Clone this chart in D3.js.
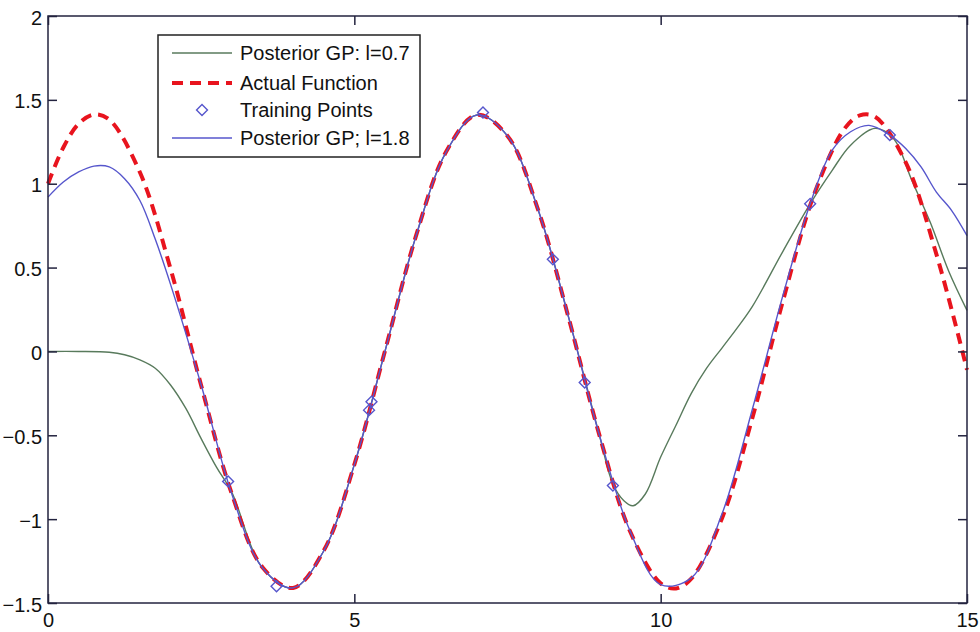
<!DOCTYPE html>
<html>
<head>
<meta charset="utf-8">
<script src="https://cdn.jsdelivr.net/npm/d3@7"></script>
<style>
  body { margin: 0; background: #fff; }
  text { font-family: "Liberation Sans", Arial, sans-serif; fill: #111; }
</style>
</head>
<body>
<div id="chart"></div>
<script>
// values

var actualX = [0,0.25,0.5,0.75,1,1.5,2,2.5,3,3.5,4,4.5,5,5.5,6,6.5,7,7.5,8,8.5,9,9.5,10,10.25,10.5,11,11.5,12,12.5,13,13.25,13.5,14,14.5,15]
var actualY = [1.0,1.216,1.357,1.413,1.382,1.068,0.493,-0.203,-0.849,-1.287,-1.41,-1.188,-0.675,0.003,0.681,1.192,1.411,1.285,0.844,0.197,-0.499,-1.072,-1.383,-1.413,-1.355,-0.996,-0.392,0.307,0.932,1.328,1.407,1.399,1.127,0.58,-0.109]

var gpShortX = [0,0.5,1,1.25,1.5,1.75,2,2.25,2.5,2.75,3,3.5,4,4.5,5,5.5,6,6.5,7,7.5,8,8.5,9,9.22,9.4,9.55,9.75,10,10.25,10.5,10.75,11,11.25,11.5,12,12.44,12.8,13.1,13.5,13.8,14.1,14.4,14.7,15]
var gpShortY = [0,0,-0.005,-0.02,-0.05,-0.1,-0.2,-0.34,-0.52,-0.69,-0.84,-1.29,-1.41,-1.19,-0.675,0.0,0.68,1.19,1.41,1.285,0.845,0.2,-0.5,-0.79,-0.89,-0.92,-0.85,-0.63,-0.44,-0.25,-0.1,0.02,0.14,0.27,0.6,0.88,1.08,1.23,1.33,1.27,1.02,0.77,0.48,0.245]

var gpLongX = [0,0.25,0.5,0.75,1,1.25,1.5,1.75,2,2.5,3,3.5,4,4.5,5,5.5,6,6.5,7,7.5,8,8.5,9,9.5,10,10.5,11,11.5,12,12.44,12.8,13.1,13.4,13.74,14,14.25,14.5,14.75,15]
var gpLongY = [0.92,1.01,1.07,1.105,1.1,1.03,0.9,0.67,0.4,-0.2,-0.85,-1.29,-1.41,-1.19,-0.675,0.0,0.68,1.19,1.41,1.285,0.845,0.2,-0.5,-1.07,-1.39,-1.35,-0.97,-0.34,0.34,0.88,1.2,1.31,1.348,1.29,1.21,1.1,0.95,0.84,0.69]

var trainX = [2.94,3.73,5.24,5.28,7.1,8.24,8.76,9.22,12.44,13.74]
var trainY = [-0.775,-1.4,-0.35,-0.3,1.425,0.549,-0.185,-0.8,0.88,1.29]

var xTicks = [0,5,10,15]
var yTicks = [-1.5,-1,-0.5,0,0.5,1,1.5,2]

var legendLabels = ["Posterior GP: l=0.7", "Actual Function", "Training Points", "Posterior GP; l=1.8"]

var colGreen = "#587a5c",
    colRed = "#e8141e",
    colBlue = "#5656cc",
    colAxis = "#23233f"

var margin = {top: 16, right: 13, bottom: 29, left: 48},
    width = 980 - margin.left - margin.right,
    height = 632 - margin.top - margin.bottom

var svg = d3.select("#chart")
  .append("svg")
  .attr("width", 980)
  .attr("height", 632)
  .append("g")
  .attr("transform", "translate(" + margin.left + "," + margin.top + ")")

var x = d3.scaleLinear().domain([0, 15]).range([0, width])
var y = d3.scaleLinear().domain([-1.5, 2]).range([height, 0])

function pairs(xs, ys) {
  return xs.map(function(v, i) { return [v, ys[i]] })
}

var line = d3.line()
  .x(function(d) { return x(d[0]) })
  .y(function(d) { return y(d[1]) })
  .curve(d3.curveCatmullRom.alpha(0.5))

// curves
svg.append("path")
  .datum(pairs(gpShortX, gpShortY))
  .attr("d", line)
  .attr("fill", "none")
  .attr("stroke", colGreen)
  .attr("stroke-width", 1.4)

svg.append("path")
  .datum(pairs(actualX, actualY))
  .attr("d", line)
  .attr("fill", "none")
  .attr("stroke", colRed)
  .attr("stroke-width", 4)
  .attr("stroke-dasharray", "11,7")

var diamond = d3.symbol().type(d3.symbolDiamond2).size(76)

svg.selectAll(".train")
  .data(pairs(trainX, trainY))
  .enter()
  .append("path")
  .attr("class", "train")
  .attr("d", diamond)
  .attr("transform", function(d) { return "translate(" + x(d[0]) + "," + y(d[1]) + ")" })
  .attr("fill", "none")
  .attr("stroke", colBlue)
  .attr("stroke-width", 1.4)

svg.append("path")
  .datum(pairs(gpLongX, gpLongY))
  .attr("d", line)
  .attr("fill", "none")
  .attr("stroke", colBlue)
  .attr("stroke-width", 1.4)

// axes, matlab style: box with inward ticks
var tickLen = 9

svg.append("rect")
  .attr("width", width)
  .attr("height", height)
  .attr("fill", "none")
  .attr("stroke", colAxis)
  .attr("stroke-width", 1.5)

var xAxis = svg.append("g")
  .attr("transform", "translate(0," + height + ")")
  .call(d3.axisBottom(x).tickValues(xTicks).tickSize(-tickLen).tickPadding(10).tickFormat(d3.format("d")))

var xAxisTop = svg.append("g")
  .call(d3.axisTop(x).tickValues(xTicks).tickSize(-tickLen).tickFormat(""))

var yAxis = svg.append("g")
  .call(d3.axisLeft(y).tickValues(yTicks).tickSize(-tickLen).tickPadding(6).tickFormat(function(d) { return String(d).replace("-", "\u2212") }))

var yAxisRight = svg.append("g")
  .attr("transform", "translate(" + width + ",0)")
  .call(d3.axisRight(y).tickValues(yTicks).tickSize(-tickLen).tickFormat(""))

svg.selectAll(".domain").remove()
svg.selectAll(".tick line").attr("stroke", colAxis).attr("stroke-width", 1.5)
svg.selectAll(".tick text")
  .style("font-size", "20px")
  .style("font-family", "'Liberation Sans', Arial, sans-serif")
  .attr("fill", "#111")
yAxis.selectAll(".tick text").attr("dy", "0.4em")

// legend
var legend = svg.append("g")
  .attr("transform", "translate(" + (158 - margin.left) + "," + (35 - margin.top) + ")")

legend.append("rect")
  .attr("width", 262)
  .attr("height", 122)
  .attr("fill", "#fff")
  .attr("stroke", "#222")
  .attr("stroke-width", 1.5)

var rowY = [18, 48, 75, 103]

legend.append("line")
  .attr("x1", 14).attr("x2", 74).attr("y1", rowY[0]).attr("y2", rowY[0])
  .attr("stroke", colGreen).attr("stroke-width", 1.4)

legend.append("line")
  .attr("x1", 14).attr("x2", 74).attr("y1", rowY[1]).attr("y2", rowY[1])
  .attr("stroke", colRed).attr("stroke-width", 4).attr("stroke-dasharray", "11,7")

legend.append("path")
  .attr("d", diamond)
  .attr("transform", "translate(44," + rowY[2] + ")")
  .attr("fill", "none")
  .attr("stroke", colBlue)
  .attr("stroke-width", 1.4)

legend.append("line")
  .attr("x1", 14).attr("x2", 74).attr("y1", rowY[3]).attr("y2", rowY[3])
  .attr("stroke", colBlue).attr("stroke-width", 1.4)

legend.selectAll(".leg-label")
  .data(legendLabels)
  .enter()
  .append("text")
  .attr("class", "leg-label")
  .attr("x", 82)
  .attr("y", function(d, i) { return rowY[i] + 7 })
  .style("font-size", "20px")
  .text(function(d) { return d })
</script>
</body>
</html>
